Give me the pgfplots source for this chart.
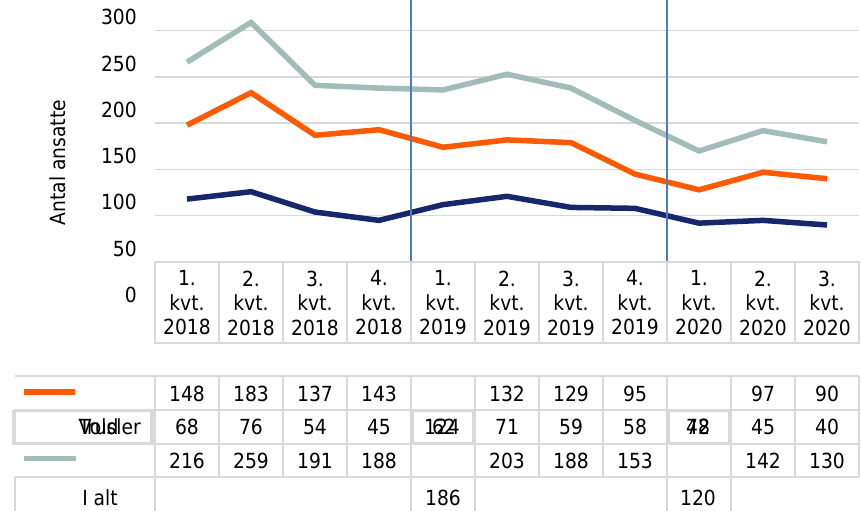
\documentclass[border=0pt]{standalone}
\usepackage{fontspec}
\setmainfont{DejaVu Sans Condensed}
\usepackage{pgfplots}
\usepackage{pgfplotstable}
\pgfplotsset{compat=1.18}
\definecolor{cOrange}{HTML}{FF5A00}
\definecolor{cNavy}{HTML}{16286B}
\definecolor{cGray}{HTML}{A2BDB9}
\definecolor{cGrid}{HTML}{D9D9D9}
\definecolor{cVline}{HTML}{5577BB}
\newcommand{\fs}{\fontsize{20.8}{24.5}\selectfont}
\pgfplotstableread{
x vold trusler ialt
0 148 68 216
1 183 76 259
2 137 54 191
3 143 45 188
4 124 62 186
5 132 71 203
6 129 59 188
7 95 58 153
8 78 42 120
9 97 45 142
10 90 40 130
}\datatable
\begin{document}
\begin{tikzpicture}[x=1pt,y=1pt]
\useasboundingbox (0,0) rectangle (862,511);
\begin{axis}[
  at={(155pt,202.75pt)}, anchor=south west,
  scale only axis, width=704pt, height=308.25pt,
  xmin=-0.5, xmax=10.5, ymin=-50, ymax=283.24,
  axis line style={draw=none},
  major tick length=0pt,
  xtick={0,...,10},
  xticklabels={{1.\\kvt.\\2018},{2.\\kvt.\\2018},{3.\\kvt.\\2018},{4.\\kvt.\\2018},{1.\\kvt.\\2019},{2.\\kvt.\\2019},{3.\\kvt.\\2019},{4.\\kvt.\\2019},{1.\\kvt.\\2020},{2.\\kvt.\\2020},{3.\\kvt.\\2020}},
  xticklabel style={align=center, anchor=center, yshift=5.25pt, font=\fs},
  ytick={-35.5,14.5,64.5,114.5,164.5,214.5,264.5},
  yticklabels={0,50,100,150,200,250,300},
  yticklabel style={anchor=east, inner sep=0pt, xshift=-18pt, font=\fs},
  extra y ticks={50,100,150,200,250},
  extra y tick labels={},
  extra y tick style={grid=major},
  grid style={cGrid, line width=1.5pt},
  every axis y label/.style={at={(axis description cs:-0.1378,0.4728)}, rotate=90, anchor=center, font=\fs},
  ylabel={Antal ansatte},
  clip=false,
]
\addplot[cGray, line width=5.5pt] table[x=x,y=ialt]{\datatable};
\addplot[cOrange, line width=5.5pt] table[x=x,y=vold]{\datatable};
\addplot[cNavy, line width=5.5pt] table[x=x,y=trusler]{\datatable};
\addplot[cVline, line width=1.3pt] coordinates {(3.5,0) (3.5,283.24)};
\addplot[cVline, line width=1.3pt] coordinates {(7.5,0) (7.5,283.24)};
\end{axis}
\begin{scope}[draw=cGrid, line width=1.5pt, font=\fs]
  % header cells
  \foreach \i in {0,...,10} { \draw ({155+64*\i},168) rectangle ({219+64*\i},249); }
  % data table rows 1-3
  \foreach \yy in {135,101,67,34} { \draw (15,\yy) -- (859,\yy); }
  \foreach \i in {0,...,11} { \draw ({155+64*\i},34) -- ({155+64*\i},135); }
  % row 4
  \draw (15,0) -- (15,34);
  \foreach \xx in {155,411,475,667,731} { \draw (\xx,0) -- (\xx,34); }
  % legend samples
  \draw[cOrange, line width=5.5pt] (24,119) -- (75,119);
  \draw[cGray, line width=5pt] (24,52) -- (76,52);
  % row 2 header box (shadowed)
  \draw[fill=white] (13,67) rectangle (151,100);
  \draw (15,68.5) rectangle (153,101);
  \node[anchor=base west, inner sep=0pt] at (78,76) {Vold};
  \node[anchor=base west, inner sep=0pt] at (78,76) {Trusler};
  % shadowed boxes at 1. kvt 2019 and 1. kvt 2020, row 2
  \draw[fill=white] (411,67) rectangle (473,100);
  \draw (413,68.5) rectangle (475,101);
  \draw[fill=white] (667,67) rectangle (729,100);
  \draw (669,68.5) rectangle (731,101);
  % row 1
  \foreach \i/\v in {0/148,1/183,2/137,3/143,5/132,6/129,7/95,9/97,10/90}
    { \node[anchor=base, inner sep=0pt] at ({187+64*\i},109) {\v}; }
  % row 2
  \foreach \i/\v in {0/68,1/76,2/54,3/45,5/71,6/59,7/58,9/45,10/40}
    { \node[anchor=base, inner sep=0pt] at ({187+64*\i},76) {\v}; }
  \node[anchor=base, inner sep=0pt] at (442,76) {124};
  \node[anchor=base, inner sep=0pt] at (444,76) {62};
  \node[anchor=base, inner sep=0pt] at (698,76) {78};
  \node[anchor=base, inner sep=0pt] at (698,76) {42};
  % row 3
  \foreach \i/\v in {0/216,1/259,2/191,3/188,5/203,6/188,7/153,9/142,10/130}
    { \node[anchor=base, inner sep=0pt] at ({187+64*\i},42) {\v}; }
  % row 4
  \node[anchor=base, inner sep=0pt] at (100,5.3) {I alt};
  \node[anchor=base, inner sep=0pt] at (443,5.3) {186};
  \node[anchor=base, inner sep=0pt] at (698,5.3) {120};
\end{scope}
\end{tikzpicture}
\end{document}
